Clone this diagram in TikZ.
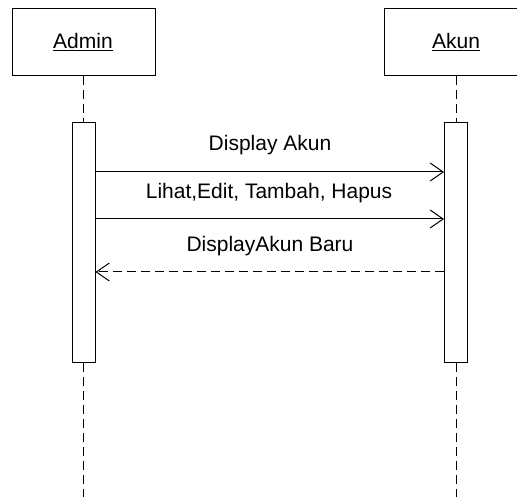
\documentclass[tikz,border=0pt]{standalone}
\usepackage{fontspec}
\setmainfont{Liberation Sans}
\usetikzlibrary{arrows.meta}
\begin{document}
\begin{tikzpicture}[x=1pt,y=-1pt,
  objbox/.style={draw=black,line width=1pt,fill=white,inner sep=0pt,minimum width=#1,minimum height=67pt},
  actbox/.style={draw=black,line width=1pt,fill=white,inner sep=0pt,minimum width=23pt,minimum height=239pt},
  lbl/.style={font=\fontsize{21}{24}\selectfont,inner sep=0pt,anchor=base},
  lifeline/.style={line width=1pt,dash pattern=on 9pt off 5pt},
  msg/.style={line width=1pt,-{Straight Barb[length=13pt,width=18pt,line width=1pt]}},
  ret/.style={msg,dash pattern=on 9pt off 5pt}]
\useasboundingbox (0,0) rectangle (517,497);
\node[objbox=143pt] (adminbox) at (83.5,42.5) {};
\node[objbox=133pt] (akunbox) at (450.5,42.5) {};
\node[lbl] (adminlbl) at (83,49) {\underline{Admin}};
\node[lbl] (akunlbl) at (456,49) {\underline{Akun}};
\node[actbox] (adminact) at (83.5,242.5) {};
\node[actbox] (akunact) at (456,242.5) {};
\coordinate (adminend) at (83.5,497);
\coordinate (akunend) at (456,497);
\draw[lifeline] (adminbox.south -| adminact.north) -- (adminact.north);
\draw[lifeline] (adminact.south) -- (adminend);
\draw[lifeline] (akunbox.south -| akunact.north) -- (akunact.north);
\draw[lifeline] (akunact.south) -- (akunend);
\coordinate (m1a) at (adminact.east |- 0,172);
\coordinate (m1b) at (akunact.west |- 0,172);
\coordinate (m2a) at (adminact.east |- 0,219);
\coordinate (m2b) at (akunact.west |- 0,219);
\coordinate (m3a) at (akunact.west |- 0,272);
\coordinate (m3b) at (adminact.east |- 0,272);
\draw[msg] (m1a) -- (m1b);
\draw[msg] (m2a) -- (m2b);
\draw[ret] (m3a) -- (m3b);
\node[lbl] (t1) at (270,151) {Display Akun};
\node[lbl] (t2) at (269,199) {Lihat,Edit, Tambah, Hapus};
\node[lbl] (t3) at (270,252) {DisplayAkun Baru};
\end{tikzpicture}
\end{document}
